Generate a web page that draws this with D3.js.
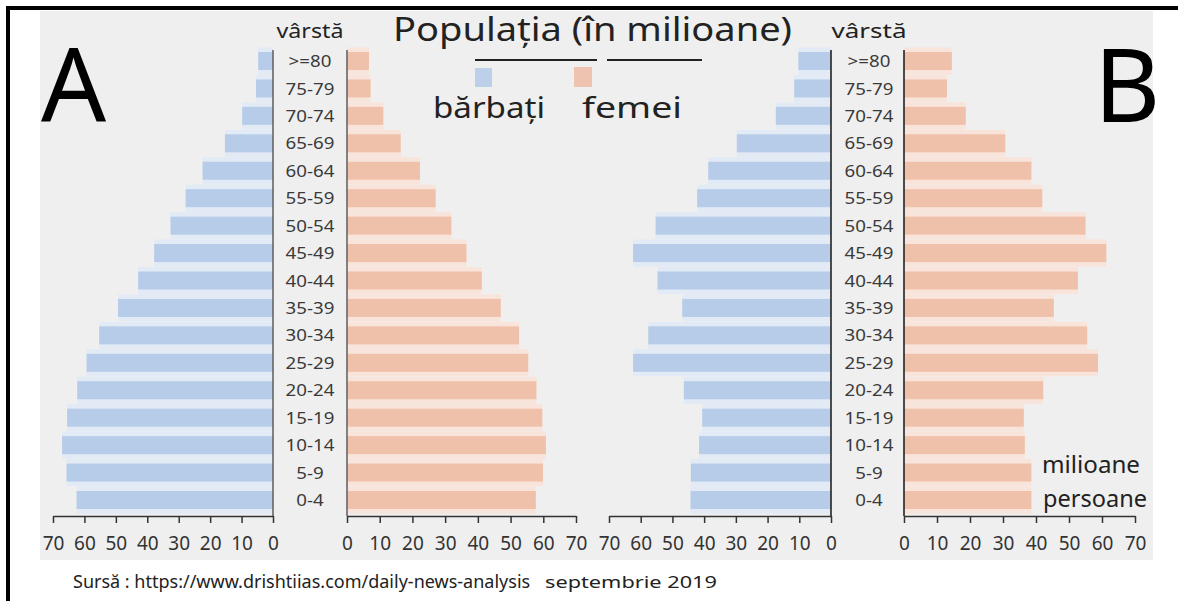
<!DOCTYPE html>
<html>
<head>
<meta charset="utf-8">
<script src="https://cdn.jsdelivr.net/npm/d3@7"></script>
<style>
  body { margin: 0; background: #fff; }
  svg { display: block; font-family: "Noto Sans", "Open Sans", sans-serif; }
</style>
</head>
<body>
<svg width="1178" height="601"></svg>
<script>
var ages = [">=80", "75-79", "70-74", "65-69", "60-64", "55-59", "50-54", "45-49", "40-44",
            "35-39", "30-34", "25-29", "20-24", "15-19", "10-14", "5-9", "0-4"];

// milioane persoane
var maleA   = [4.7, 5.4, 9.8, 15.3, 22.4, 27.8, 32.6, 37.8, 42.9, 49.3, 55.3, 59.3, 62.3, 65.5, 67.1, 65.7, 62.5];
var femaleA = [6.7, 7.2, 11.1, 16.4, 22.3, 27.1, 31.9, 36.5, 41.2, 47.0, 52.6, 55.4, 57.9, 59.7, 60.8, 59.9, 57.7];
var maleB   = [10.3, 11.6, 17.4, 29.7, 38.7, 42.2, 55.3, 62.4, 54.7, 46.9, 57.6, 62.4, 46.4, 40.6, 41.6, 44.2, 44.3];
var femaleB = [14.5, 13.0, 18.7, 30.7, 38.6, 41.9, 55.0, 61.3, 52.7, 45.4, 55.5, 58.8, 42.2, 36.3, 36.6, 38.6, 38.6];

var tickValues = [0, 10, 20, 30, 40, 50, 60, 70];

var svg = d3.select("svg");

// fundal + chenar
svg.append("rect").attr("x", 40).attr("y", 11).attr("width", 1113).attr("height", 549).attr("fill", "#efefef");
svg.append("rect").attr("x", 6).attr("y", 6).attr("width", 1172).attr("height", 4).attr("fill", "#000");
svg.append("rect").attr("x", 6).attr("y", 6).attr("width", 4).attr("height", 595).attr("fill", "#000");

var y = d3.scalePoint().domain(ages).range([61, 500]);
var axisY = 516;
var barH = 18, haloH = 27;

var blue = "#b6cce8", blueHalo = "#e2eaf5";
var pink = "#efc1aa", pinkHalo = "#f8e4da";

function side(values, x, color, halo, lineColor) {
  var rows = ages.map(function(a, i) { return {age: a, v: values[i]}; });
  var g = svg.append("g");

  g.selectAll(".halo").data(rows).enter().append("rect")
      .attr("x", function(d) { return Math.min(x(0), x(d.v)); })
      .attr("y", function(d) { return y(d.age) - haloH / 2; })
      .attr("width", function(d) { return Math.abs(x(d.v) - x(0)); })
      .attr("height", haloH)
      .attr("fill", halo);

  g.selectAll(".bar").data(rows).enter().append("rect")
      .attr("x", function(d) { return Math.min(x(0), x(d.v)); })
      .attr("y", function(d) { return y(d.age) - barH / 2; })
      .attr("width", function(d) { return Math.abs(x(d.v) - x(0)); })
      .attr("height", barH)
      .attr("fill", color);

  g.append("line")
      .attr("x1", x(0)).attr("x2", x(0))
      .attr("y1", 50).attr("y2", axisY)
      .attr("stroke", lineColor).attr("stroke-width", 1.6);

  var ax = g.append("g")
      .attr("transform", "translate(0," + axisY + ")")
      .call(d3.axisBottom(x).tickValues(tickValues).tickSize(7).tickSizeOuter(0).tickPadding(14));
  ax.select(".domain").attr("stroke", "#333").attr("stroke-width", 1.5);
  ax.selectAll(".tick line").attr("stroke", "#333").attr("stroke-width", 1.5);
  ax.selectAll(".tick text")
      .attr("font-family", "Noto Sans, sans-serif")
      .attr("font-size", 19)
      .attr("fill", "#333");
}

function ageLabels(cx, headW) {
  svg.append("g").selectAll("text").data(ages).enter().append("text")
      .attr("transform", function(d) { return "translate(" + cx + "," + y(d) + ") scale(1.1,1)"; })
      .attr("text-anchor", "middle")
      .attr("dy", "0.36em")
      .attr("font-size", 17)
      .attr("fill", "#3a3a3a")
      .text(function(d) { return d; });

  svg.append("text")
      .attr("x", cx - headW / 2).attr("y", 38)
      .attr("font-size", 20)
      .attr("textLength", headW).attr("lengthAdjust", "spacingAndGlyphs")
      .attr("fill", "#222")
      .text("vârstă");
}

// pyramid A
side(maleA, d3.scaleLinear().domain([0, 70]).range([273, 53]), blue, blueHalo, "#666");
side(femaleA, d3.scaleLinear().domain([0, 70]).range([347, 576]), pink, pinkHalo, "#666");
ageLabels(310, 67);

// pyramid B
side(maleB, d3.scaleLinear().domain([0, 70]).range([831, 609]), blue, blueHalo, "#222");
side(femaleB, d3.scaleLinear().domain([0, 70]).range([904, 1135]), pink, pinkHalo, "#222");
ageLabels(869, 75);

// litere mari
svg.append("text").attr("x", 41).attr("y", 122).attr("font-size", 102).attr("fill", "#000").text("A");
svg.append("text").attr("x", 1094).attr("y", 122).attr("font-size", 102).attr("fill", "#000").text("B");

// titlu + legenda
svg.append("text")
    .attr("x", 393).attr("y", 41)
    .attr("font-size", 33)
    .attr("textLength", 399).attr("lengthAdjust", "spacingAndGlyphs")
    .attr("fill", "#222")
    .text("Populația (în milioane)");
svg.append("line").attr("x1", 475).attr("x2", 597).attr("y1", 60).attr("y2", 60).attr("stroke", "#222").attr("stroke-width", 2);
svg.append("line").attr("x1", 607).attr("x2", 702).attr("y1", 60).attr("y2", 60).attr("stroke", "#222").attr("stroke-width", 2);

svg.append("rect").attr("x", 475).attr("y", 68).attr("width", 17).attr("height", 19).attr("fill", "#bcd0ea");
svg.append("rect").attr("x", 574).attr("y", 67).attr("width", 18).attr("height", 20).attr("fill", "#eec4b0");
svg.append("text").attr("x", 433).attr("y", 118).attr("font-size", 29)
    .attr("textLength", 112).attr("lengthAdjust", "spacingAndGlyphs")
    .attr("fill", "#222").text("bărbați");
svg.append("text").attr("x", 582).attr("y", 118).attr("font-size", 29)
    .attr("textLength", 100).attr("lengthAdjust", "spacingAndGlyphs")
    .attr("fill", "#222").text("femei");

// unitate
svg.append("text").attr("x", 1042).attr("y", 473).attr("font-size", 24)
    .attr("textLength", 98).attr("lengthAdjust", "spacingAndGlyphs")
    .attr("fill", "#222").text("milioane");
svg.append("text").attr("x", 1043).attr("y", 507).attr("font-size", 24)
    .attr("textLength", 104).attr("lengthAdjust", "spacingAndGlyphs")
    .attr("fill", "#222").text("persoane");

// sursa
svg.append("text").attr("x", 73).attr("y", 588).attr("font-size", 18)
    .attr("fill", "#222").text("Sursă : https://www.drishtiias.com/daily-news-analysis");
svg.append("text").attr("x", 545).attr("y", 588).attr("font-size", 16)
    .attr("textLength", 172).attr("lengthAdjust", "spacingAndGlyphs")
    .attr("fill", "#222").text("septembrie 2019");
</script>
</body>
</html>
